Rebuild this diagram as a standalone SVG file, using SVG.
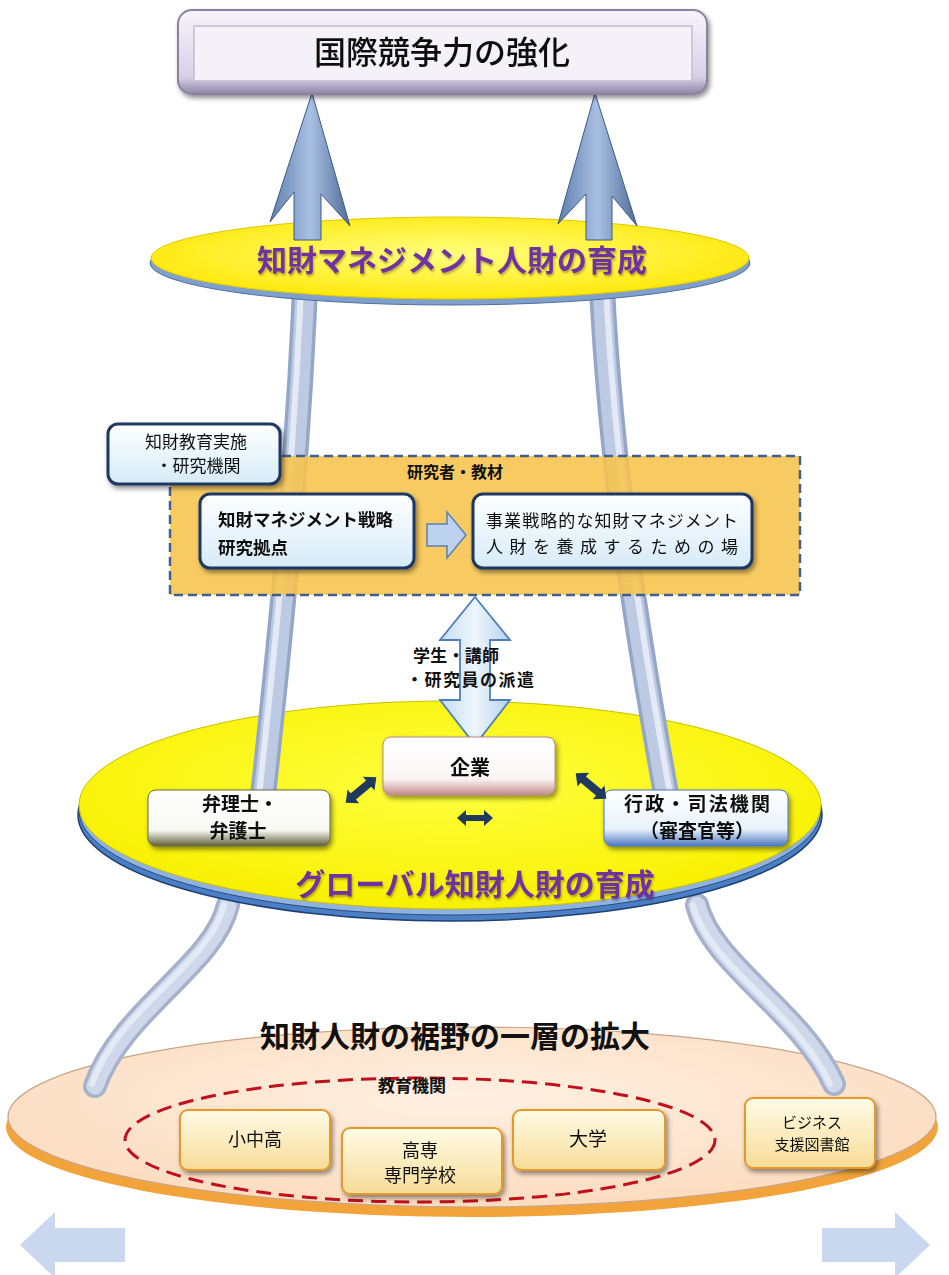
<svg xmlns="http://www.w3.org/2000/svg" width="949" height="1275" viewBox="0 0 949 1275">
<defs>
<style>
.jp{font-family:"Noto Sans CJK JP","Noto Sans CJK SC",sans-serif;fill:#111}
.b{font-weight:bold}
.pur{font-family:"Noto Sans CJK JP",sans-serif;font-weight:bold;fill:#7030a0}
.navybox{fill:url(#gBlue);stroke:#1f3864;stroke-width:3}
.ybox{fill:url(#gYel);stroke:#e39a2a;stroke-width:2}
.tubeO{fill:none;stroke:#95a6c8;stroke-width:26;stroke-linecap:round}
.tubeI{fill:none;stroke:#bccae4;stroke-width:19;stroke-linecap:round}
.tubeH{fill:none;stroke:#e4eaf5;stroke-width:6;stroke-linecap:round}
.ltubeO{fill:none;stroke:#a6b2cc;stroke-width:24;stroke-linecap:round}
.ltubeI{fill:none;stroke:#cfd8ea;stroke-width:17;stroke-linecap:round}
.dark{fill:#1f3a5c}
</style>
<linearGradient id="gBlue" x1="0" y1="0" x2="0" y2="1"><stop offset="0" stop-color="#ffffff"/><stop offset="1" stop-color="#d6ebf8"/></linearGradient>
<linearGradient id="gYel" x1="0" y1="0" x2="0" y2="1"><stop offset="0" stop-color="#fffbe6"/><stop offset="1" stop-color="#f7dc98"/></linearGradient>
<linearGradient id="gTop" x1="0" y1="0" x2="0" y2="1"><stop offset="0" stop-color="#f7f4fb"/><stop offset="0.8" stop-color="#d8d0e6"/><stop offset="1" stop-color="#8e86a4"/></linearGradient>
<radialGradient id="gEl1" cx="0.5" cy="0.45" r="0.6"><stop offset="0" stop-color="#ffff80"/><stop offset="1" stop-color="#ffe600"/></radialGradient>
<radialGradient id="gEl2" cx="0.5" cy="0.4" r="0.6"><stop offset="0" stop-color="#ffff40"/><stop offset="1" stop-color="#f8f000"/></radialGradient>
<radialGradient id="gEl3" cx="0.5" cy="0.4" r="0.6"><stop offset="0" stop-color="#fff0e2"/><stop offset="1" stop-color="#fbdcc0"/></radialGradient>
<linearGradient id="gArrow" x1="0" y1="0" x2="1" y2="0"><stop offset="0" stop-color="#5f7fae"/><stop offset="0.5" stop-color="#a9c0e2"/><stop offset="1" stop-color="#4f6c98"/></linearGradient>
<linearGradient id="gVArrow" x1="0" y1="0" x2="1" y2="0"><stop offset="0" stop-color="#c6dcf2"/><stop offset="0.5" stop-color="#eef5fc"/><stop offset="1" stop-color="#b8d2ee"/></linearGradient>
<linearGradient id="gKig" x1="0" y1="0" x2="0" y2="1"><stop offset="0" stop-color="#ffffff"/><stop offset="0.72" stop-color="#fbf6f6"/><stop offset="1" stop-color="#c48a8a"/></linearGradient>
<linearGradient id="gBen" x1="0" y1="0" x2="0" y2="1"><stop offset="0" stop-color="#ffffff"/><stop offset="0.72" stop-color="#f8f8f4"/><stop offset="1" stop-color="#5e5e38"/></linearGradient>
<linearGradient id="gGyo" x1="0" y1="0" x2="0" y2="1"><stop offset="0" stop-color="#ffffff"/><stop offset="0.7" stop-color="#e8f2fb"/><stop offset="1" stop-color="#4a78c0"/></linearGradient>
<filter id="sh" x="-10%" y="-10%" width="130%" height="140%"><feGaussianBlur in="SourceAlpha" stdDeviation="2.5"/><feOffset dx="2" dy="3" result="o"/><feComponentTransfer><feFuncA type="linear" slope="0.45"/></feComponentTransfer><feMerge><feMergeNode/><feMergeNode in="SourceGraphic"/></feMerge></filter>
<filter id="tsh" x="-5%" y="-20%" width="110%" height="160%"><feGaussianBlur in="SourceAlpha" stdDeviation="1"/><feOffset dx="1" dy="2"/><feComponentTransfer><feFuncA type="linear" slope="0.3"/></feComponentTransfer><feMerge><feMergeNode/><feMergeNode in="SourceGraphic"/></feMerge></filter>
</defs>
<rect width="949" height="1275" fill="#ffffff"/>

<g id="base-ellipse">
<ellipse cx="472" cy="1127" rx="466" ry="90" fill="#f2a43a"/>
<ellipse cx="472" cy="1117" rx="464" ry="90" fill="url(#gEl3)" stroke="#c9a487" stroke-width="1.2"/>
<text class="jp b" x="455" y="1047" font-size="30" text-anchor="middle">知財人財の裾野の一層の拡大</text>
</g>

<g id="connectors">
<path class="ltubeO" d="M228,905 C214,965 122,1010 95,1086"/>
<path class="ltubeI" d="M228,905 C214,965 122,1010 95,1086"/>
<path class="tubeH" d="M224,905 C210,965 118,1008 92,1084"/>
<path class="ltubeO" d="M697,905 C712,965 800,1010 834,1084"/>
<path class="ltubeI" d="M697,905 C712,965 800,1010 834,1084"/>
<path class="tubeH" d="M693,905 C708,965 796,1010 830,1084"/>
</g>

<g id="mid-ellipse">
<ellipse cx="450" cy="815" rx="372" ry="106" fill="#4a7fc6" stroke="#1f3f70" stroke-width="1.5"/>
<ellipse cx="450" cy="810" rx="371" ry="105" fill="#8fb2e0" stroke="#2a4c80" stroke-width="1"/>
<ellipse cx="450" cy="805" rx="371" ry="104" fill="url(#gEl2)" stroke="#c9c000" stroke-width="1"/>
<text class="pur" x="475" y="895" font-size="30" text-anchor="middle" filter="url(#tsh)">グローバル知財人財の育成</text>
</g>

<g id="connectors-upper">
<path class="tubeO" d="M307,236 C300,450 280,640 262,805"/>
<path class="tubeI" d="M307,236 C300,450 280,640 262,805"/>
<path class="tubeH" d="M303,236 C296,450 276,640 258,805"/>
<path class="tubeO" d="M600,236 C606,450 640,650 668,805"/>
<path class="tubeI" d="M600,236 C606,450 640,650 668,805"/>
<path class="tubeH" d="M604,236 C610,450 644,650 672,805"/>
</g>

<g id="inst-area">
<rect x="170" y="456" width="630" height="139" fill="#f7c44c" fill-opacity="0.88" stroke="#3f5f8f" stroke-width="2.5" stroke-dasharray="9 5"/>
<text class="jp b" x="455" y="478" font-size="16" text-anchor="middle">研究者・教材</text>
</g>

<g id="inst-label" filter="url(#sh)">
<rect class="navybox" x="108" y="424" width="172" height="60" rx="10"/>
<text class="jp" x="196" y="448" font-size="17" text-anchor="middle">知財教育実施</text>
<text class="jp" x="198" y="472" font-size="17" text-anchor="middle">・研究機関</text>
</g>

<g id="research-hub" filter="url(#sh)">
<rect class="navybox" x="200" y="494" width="214" height="74" rx="10"/>
<text class="jp b" x="218" y="526" font-size="17.5">知財マネジメント戦略</text>
<text class="jp b" x="218" y="554" font-size="17.5">研究拠点</text>
</g>

<g id="arrow-right">
<polygon points="427,524 447,524 447,512 466,535 447,558 447,546 427,546" fill="#bcd2ee" stroke="#5a80b4" stroke-width="1.5"/>
</g>

<g id="training-place" filter="url(#sh)">
<rect class="navybox" x="473" y="494" width="279" height="74" rx="10"/>
<text class="jp" x="612" y="527" font-size="17" text-anchor="middle" textLength="252">事業戦略的な知財マネジメント</text>
<text class="jp" x="612" y="553" font-size="17" text-anchor="middle" textLength="252" lengthAdjust="spacing">人財を養成するための場</text>
</g>

<g id="dispatch-arrow">
<polygon points="475,597 510,640 490,640 490,700 510,700 475,745 440,700 460,700 460,640 440,640" fill="url(#gVArrow)" stroke="#4f7fb8" stroke-width="1.8"/>
<text class="jp b" x="413" y="662" font-size="17" textLength="86">学生・講師</text>
<text class="jp b" x="406" y="686" font-size="17" textLength="128">・研究員の派遣</text>
</g>

<g id="kigyo" filter="url(#sh)">
<rect x="383" y="737" width="172" height="58" rx="8" fill="url(#gKig)" stroke="#b78888" stroke-width="1"/>
<text class="jp b" x="470" y="775" font-size="20" text-anchor="middle">企業</text>
</g>

<g id="benrishi" filter="url(#sh)">
<rect x="148" y="790" width="182" height="56" rx="8" fill="url(#gBen)" stroke="#6a6a40" stroke-width="1"/>
<text class="jp b" x="240" y="811" font-size="19" text-anchor="middle">弁理士・</text>
<text class="jp b" x="238" y="838" font-size="19" text-anchor="middle">弁護士</text>
</g>

<g id="gyosei" filter="url(#sh)">
<rect x="604" y="790" width="184" height="56" rx="8" fill="url(#gGyo)" stroke="#4a78c0" stroke-width="1"/>
<text class="jp b" x="697" y="811" font-size="19" text-anchor="middle" textLength="146">行政・司法機関</text>
<text class="jp b" x="697" y="838" font-size="19" text-anchor="middle">（審査官等）</text>
</g>

<g id="small-arrows">
<polygon class="dark" points="-20,0 -10,-9 -10,-4 10,-4 10,-9 20,0 10,9 10,4 -10,4 -10,9" transform="translate(361,790) rotate(-40)"/>
<polygon class="dark" points="-18,0 -9,-8 -9,-3 9,-3 9,-8 18,0 9,8 9,3 -9,3 -9,8" transform="translate(475,818)"/>
<polygon class="dark" points="-20,0 -10,-9 -10,-4 10,-4 10,-9 20,0 10,9 10,4 -10,4 -10,9" transform="translate(591,786) rotate(40)"/>
</g>

<g id="top-ellipse">
<ellipse cx="450" cy="263" rx="300" ry="42" fill="#7f9fcc" stroke="#4f6f9f" stroke-width="1"/>
<ellipse cx="450" cy="258" rx="299" ry="41" fill="url(#gEl1)" stroke="#e0c800" stroke-width="1"/>
<text class="pur" x="452" y="271" font-size="30" text-anchor="middle" filter="url(#tsh)">知財マネジメント人財の育成</text>
</g>

<g id="up-arrows">
<path d="M312,93 L350,226 L321,194 L321,240 L294,240 L294,192 L270,222 Z" fill="url(#gArrow)" stroke="#3f5a86" stroke-width="1"/>
<path d="M595,93 L637,226 L612,196 L612,240 L586,240 L586,194 L558,224 Z" fill="url(#gArrow)" stroke="#3f5a86" stroke-width="1"/>
</g>

<g id="goal" filter="url(#sh)">
<rect x="178" y="10" width="529" height="84" rx="14" fill="url(#gTop)" stroke="#8a829e" stroke-width="2"/>
<rect x="194" y="26" width="498" height="55" fill="#f4f1f8" stroke="#c4bcd4" stroke-width="1.5"/>
<text class="jp" x="442" y="64" font-size="32" font-weight="500" text-anchor="middle">国際競争力の強化</text>
</g>

<g id="edu-group">
<ellipse cx="420" cy="1140" rx="295" ry="62" fill="none" stroke="#c0101c" stroke-width="3" stroke-dasharray="15 8"/>
<text class="jp b" x="412" y="1092" font-size="17" text-anchor="middle">教育機関</text>
</g>
<g id="shochuko" filter="url(#sh)">
<rect class="ybox" x="180" y="1110" width="150" height="60" rx="8"/>
<text class="jp" x="255" y="1146" font-size="18" text-anchor="middle">小中高</text>
</g>
<g id="kosen" filter="url(#sh)">
<rect class="ybox" x="342" y="1128" width="160" height="66" rx="8"/>
<text class="jp" x="420" y="1157" font-size="18" text-anchor="middle">高専</text>
<text class="jp" x="420" y="1182" font-size="18" text-anchor="middle">専門学校</text>
</g>
<g id="daigaku" filter="url(#sh)">
<rect class="ybox" x="513" y="1110" width="152" height="60" rx="8"/>
<text class="jp" x="588" y="1146" font-size="19" text-anchor="middle">大学</text>
</g>
<g id="library" filter="url(#sh)">
<rect class="ybox" x="745" y="1098" width="130" height="70" rx="8"/>
<text class="jp" x="812" y="1128" font-size="15" text-anchor="middle">ビジネス</text>
<text class="jp" x="812" y="1150" font-size="15" text-anchor="middle">支援図書館</text>
</g>

<g id="expand-arrows">
<polygon points="20,1245 55,1212 55,1228 125,1228 125,1262 55,1262 55,1278 20,1245" fill="#c9d8ef"/>
<polygon points="930,1245 895,1212 895,1228 822,1228 822,1262 895,1262 895,1278 930,1245" fill="#c9d8ef"/>
</g>
</svg>
